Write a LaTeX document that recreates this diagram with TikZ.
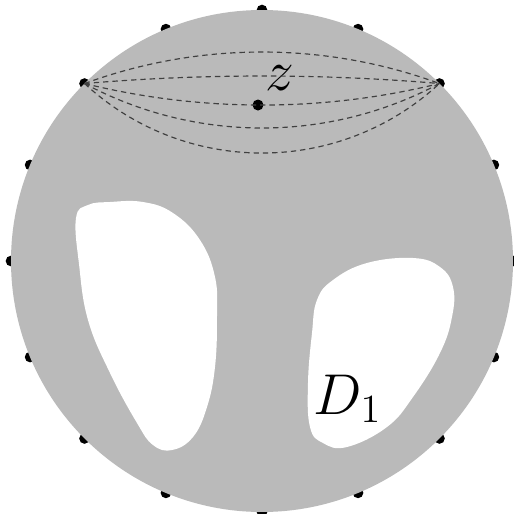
\documentclass[tikz,border=0pt]{standalone}
\usepackage{amsmath}
\usepackage{tikz}
\usetikzlibrary{calc}
\definecolor{diskgray}{RGB}{186,186,186}

\begin{document}
\begin{tikzpicture}[
  x=0.3pt, y=0.3pt,
  font=\LARGE,
  bdot/.style={circle, fill=black, inner sep=0pt, minimum size=3.2pt},
  pt/.style={circle, fill=black, inner sep=0pt, minimum size=3.3pt},
  hole/.style={fill=white, draw=none},
  geod/.style={dash pattern=on 1.6pt off 1.2pt, line width=0.35pt, black!75}
]
  \useasboundingbox (0,0) rectangle (514,514);
  \coordinate (c) at (262,253);

  % marked points on the boundary
  \foreach \k in {0,...,15}
    \node[bdot] (b\k) at ($(c)+({90+22.5*\k}:251)$) {};

  \fill[diskgray] (c) circle[radius=251];

  % the two holes
  \fill[hole] plot[smooth cycle, tension=0.7] coordinates {
    (76,296) (88,309) (110,312) (143,312) (173,301) (200,274) (215,237)
    (217,197) (215,147) (207,107) (193,77) (172,64) (153,69) (137,91)
    (110,141) (88,194) (79,250)};
  \fill[hole] plot[smooth cycle, tension=0.7] coordinates {
    (317,214) (333,234) (367,251) (413,256) (440,247) (453,227) (452,197)
    (440,161) (413,117) (387,87) (347,67) (323,71) (310,87) (308,131)
    (312,181)};

  \node[pt] (z) at (258,409) {};
  \node (zl) at (280,436) {$z$};
  \node[anchor=base west] (d1) at (302,100) {$D_1$};

  % arcs between the two boundary points
  \foreach \dx/\dy in {114.6/42, 118.1/10, 116.6/-28.7, 110.9/-59.3, 100.2/-92.7}
    \draw[geod] (b2.center) .. controls ($(b2.center)+(\dx,\dy)$)
      and ($(b14.center)+(-\dx,\dy)$) .. (b14.center);
\end{tikzpicture}
\end{document}
